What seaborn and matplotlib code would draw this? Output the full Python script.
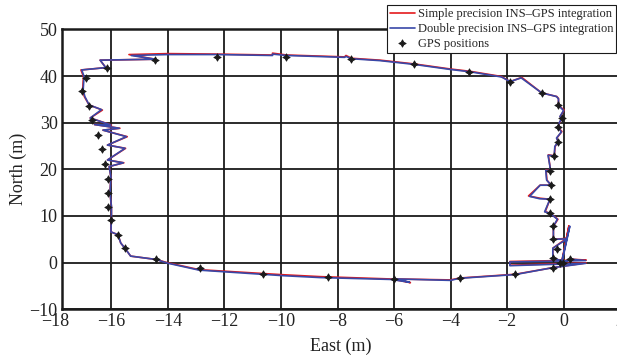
import matplotlib
matplotlib.use("Agg")
import matplotlib.pyplot as plt
import matplotlib.transforms as mtransforms
import seaborn as sns
import pandas as pd

# GPS fixes (East, North) in metres
gps_east = [-0.38, -0.12, -0.02, 0.23, -0.38, -0.24, -0.36, -0.36, -0.48, -0.48,
            -0.44, -0.48, -0.33, -0.19, -0.19, -0.05, -0.18, -0.78, -1.89, -3.33,
            -5.29, -7.52, -9.81, -12.25, -14.45, -16.17, -16.90, -17.05, -16.79, -16.70,
            -16.46, -16.34, -16.23, -16.11, -16.13, -16.12, -16.00, -15.77, -15.53, -14.43,
            -12.86, -10.64, -8.33, -6.01, -3.68, -1.71]
gps_north = [-1.07, 0.00, -0.13, 0.73, 0.94, 2.87, 5.01, 7.76, 10.58, 13.58,
             16.60, 19.70, 22.90, 25.90, 29.00, 31.10, 33.70, 36.40, 38.80, 40.80,
             42.50, 43.60, 44.10, 44.10, 43.40, 41.80, 39.50, 36.80, 33.60, 30.50,
             27.30, 24.30, 21.10, 18.00, 14.90, 12.00, 9.15, 6.00, 3.15, 0.69,
             -1.20, -2.49, -3.13, -3.56, -3.28, -2.49]

# simple precision INS-GPS trajectory
simple_east = [-0.38, 0.80, -1.90, -1.90, 0.80, 0.25, -0.06, 0.19, -0.06, -0.38,
               -0.38, 0.11, -0.36, -0.36, -0.20, -0.48, -0.65, -0.48, -0.83, -1.24,
               -0.83, -0.44, -0.59, -0.62, -0.48, -0.48, -0.54, -0.33, -0.30, -0.19,
               -0.24, -0.06, -0.19, -0.15, -0.05, -0.12, 0.02, -0.18, -0.18, -0.24,
               -0.78, -1.48, -1.89, -2.20, -3.30, -4.00, -5.30, -6.50, -7.50, -7.70,
               -7.75, -9.80, -10.30, -10.30, -12.30, -14.00, -15.38, -14.45, -16.40, -16.20,
               -17.08, -16.99, -17.02, -16.96, -16.79, -16.32, -16.75, -16.00, -16.60, -15.70,
               -16.30, -15.44, -16.14, -15.50, -16.14, -15.56, -16.08, -16.02, -16.05, -16.00,
               -16.00, -16.02, -15.90, -15.77, -15.67, -15.53, -15.32, -14.43, -14.02, -12.90,
               -9.90, -8.60, -6.10, -5.42, -5.90, -4.00, -3.68, -1.71, -0.38]
simple_north = [-1.07, -0.05, -0.55, 0.25, 0.55, 0.75, 0.00, 7.90, 0.40, 0.94,
                3.10, 5.20, 5.00, 7.80, 9.30, 10.60, 10.90, 13.60, 13.80, 14.30,
                16.60, 16.60, 17.70, 19.90, 19.70, 20.60, 23.10, 22.90, 24.90, 25.90,
                26.70, 28.10, 29.00, 29.90, 31.10, 31.30, 32.70, 33.70, 35.20, 35.60,
                36.40, 39.70, 38.80, 39.90, 41.00, 41.50, 42.60, 43.40, 43.80, 44.40,
                44.10, 44.50, 44.90, 44.50, 44.70, 44.80, 44.60, 43.60, 43.40, 41.80,
                41.30, 39.90, 37.00, 35.60, 33.80, 32.70, 31.00, 29.50, 29.60, 28.80,
                28.40, 27.00, 25.20, 24.50, 22.00, 21.40, 20.60, 18.40, 15.00, 12.00,
                9.30, 6.60, 6.30, 6.00, 4.20, 3.15, 1.40, 0.69, 0.00, -1.50,
                -2.60, -3.00, -3.50, -4.29, -3.50, -3.70, -3.30, -2.49, -1.07]

# double precision INS-GPS trajectory
double_east = [-0.38, 0.78, -1.90, -1.90, 0.78, 0.25, -0.06, 0.22, -0.06, -0.38,
               -0.38, 0.13, -0.36, -0.36, -0.22, -0.48, -0.67, -0.48, -0.85, -1.20,
               -0.83, -0.44, -0.60, -0.63, -0.48, -0.48, -0.55, -0.33, -0.31, -0.19,
               -0.25, -0.08, -0.19, -0.16, -0.05, -0.13, 0.00, -0.18, -0.18, -0.25,
               -0.78, -1.50, -1.89, -2.20, -3.30, -4.00, -5.30, -6.50, -7.50, -7.70,
               -7.75, -9.80, -10.30, -10.30, -12.30, -14.00, -15.30, -14.45, -16.40, -16.20,
               -17.05, -16.97, -17.00, -16.94, -16.79, -16.35, -16.75, -16.02, -16.60, -15.72,
               -16.30, -15.47, -16.14, -15.52, -16.14, -15.58, -16.08, -16.02, -16.05, -16.00,
               -16.00, -16.02, -15.90, -15.77, -15.67, -15.53, -15.32, -14.43, -14.02, -12.90,
               -9.90, -8.60, -6.10, -5.45, -5.90, -4.00, -3.68, -1.71, -0.38]
double_north = [-1.07, -0.15, -0.65, 0.15, 0.45, 0.75, 0.00, 7.80, 0.40, 0.94,
                3.10, 5.10, 5.00, 7.80, 9.30, 10.60, 10.90, 13.60, 13.70, 14.20,
                16.60, 16.60, 17.70, 19.80, 19.70, 20.60, 23.00, 22.90, 24.90, 25.90,
                26.70, 28.00, 29.00, 29.90, 31.10, 31.30, 32.60, 33.70, 35.10, 35.60,
                36.40, 39.60, 38.80, 39.80, 40.90, 41.40, 42.50, 43.30, 43.70, 44.20,
                44.00, 44.40, 44.70, 44.40, 44.60, 44.60, 44.40, 43.60, 43.40, 41.80,
                41.30, 39.90, 37.00, 35.60, 33.80, 32.80, 31.00, 29.50, 29.60, 28.80,
                28.40, 27.00, 25.20, 24.50, 22.00, 21.40, 20.60, 18.40, 15.00, 12.00,
                9.30, 6.60, 6.30, 6.00, 4.20, 3.15, 1.40, 0.69, -0.10, -1.60,
                -2.80, -3.20, -3.60, -4.20, -3.50, -3.80, -3.35, -2.55, -1.07]

simple_df = pd.DataFrame({"east": simple_east, "north": simple_north})
double_df = pd.DataFrame({"east": double_east, "north": double_north})
gps_df = pd.DataFrame({"east": gps_east, "north": gps_north})

sns.set_style("white")
plt.rcParams["font.family"] = ["Liberation Serif", "DejaVu Serif"]

fig = plt.figure(figsize=(6.17, 3.58), dpi=100)
# the plot box starts a little right of -18 and runs past the right edge (as in the source)
ax = fig.add_axes([0.100, 0.136, 0.905, 0.782])

sns.lineplot(data=simple_df, x="east", y="north", sort=False, estimator=None,
             color="#e41a1c", linewidth=1.2, ax=ax,
             label="Simple precision INS\u2013GPS integration")
sns.lineplot(data=double_df, x="east", y="north", sort=False, estimator=None,
             color="#3848a8", linewidth=1.2, ax=ax,
             label="Double precision INS\u2013GPS integration")
sns.scatterplot(data=gps_df, x="east", y="north", marker=(4, 1, 0), s=28,
                color="#1a1a1a", edgecolor="#1a1a1a", linewidth=0.6, ax=ax,
                label="GPS positions", zorder=5)

ax.set_xlim(-17.76, 2)
ax.set_ylim(-10, 50)
ax.set_xticks(range(-16, 3, 2))
ax.set_yticks(range(-10, 51, 10))
ax.grid(True, color="#1a1a1a", linewidth=1.3)
ax.set_axisbelow(True)
for s in ax.spines.values():
    s.set_color("#1a1a1a")
    s.set_linewidth(1.8)
ax.tick_params(length=0, labelsize=13, pad=3, colors="#222222")
ax.set_xlabel("East (m)", fontsize=13, labelpad=5, color="#222222")
ax.set_ylabel("North (m)", fontsize=13, labelpad=2, color="#222222")

# the -18 label sits just left of the plot box
trans = mtransforms.blended_transform_factory(ax.transData, ax.transAxes)
ax.annotate("\u221218", xy=(-18, 0), xycoords=trans, xytext=(0, -3),
            textcoords="offset points", ha="center", va="top", fontsize=13,
            color="#222222", annotation_clip=False)

ax.get_legend().remove()
handles, labels = ax.get_legend_handles_labels()
leg = fig.legend(handles, labels, loc="upper right", bbox_to_anchor=(0.999, 0.986),
                 fontsize=9, frameon=True, fancybox=False, edgecolor="#1a1a1a",
                 framealpha=1, borderpad=0.25, labelspacing=0.22, handlelength=2.0,
                 handletextpad=0.25, borderaxespad=0)
leg.get_frame().set_linewidth(0.8)

fig.savefig("out.png", dpi=100)
